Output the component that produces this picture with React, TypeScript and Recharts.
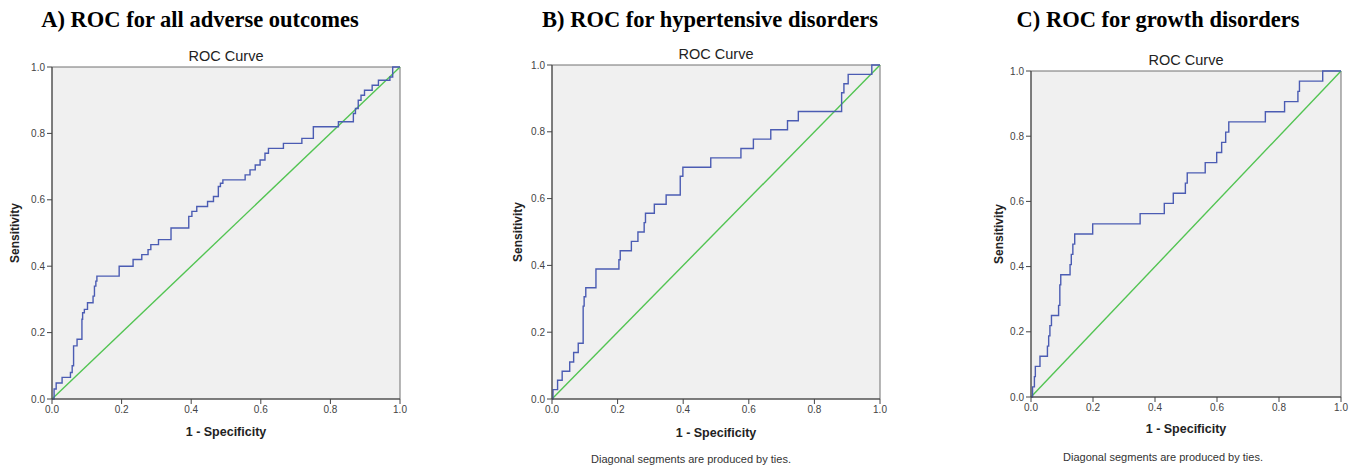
import React from 'react'
import { LineChart, Line, XAxis, YAxis, ReferenceArea } from 'recharts'

// A) all adverse outcomes
const allFpr = [0, 0.006, 0.012, 0.029, 0.053, 0.058, 0.062, 0.072, 0.086, 0.088, 0.093, 0.102, 0.118, 0.122, 0.126, 0.129, 0.193, 0.233, 0.258, 0.276, 0.284, 0.306, 0.342, 0.393, 0.402, 0.416, 0.447, 0.464, 0.478, 0.484, 0.491, 0.555, 0.569, 0.584, 0.598, 0.612, 0.622, 0.665, 0.718, 0.751, 0.823, 0.866, 0.872, 0.88, 0.888, 0.898, 0.92, 0.938, 0.971, 0.979, 1]
const allTpr = [0, 0.03, 0.048, 0.065, 0.08, 0.1, 0.16, 0.18, 0.24, 0.26, 0.27, 0.29, 0.31, 0.34, 0.355, 0.37, 0.4, 0.42, 0.435, 0.45, 0.465, 0.48, 0.515, 0.55, 0.565, 0.58, 0.595, 0.61, 0.64, 0.65, 0.66, 0.675, 0.69, 0.705, 0.72, 0.74, 0.755, 0.77, 0.785, 0.82, 0.835, 0.86, 0.875, 0.9, 0.915, 0.93, 0.945, 0.96, 0.97, 1, 1]

// B) hypertensive disorders
const hypFpr = [0, 0.003, 0.017, 0.031, 0.054, 0.066, 0.08, 0.095, 0.098, 0.103, 0.134, 0.204, 0.208, 0.242, 0.262, 0.281, 0.285, 0.312, 0.348, 0.391, 0.399, 0.484, 0.576, 0.614, 0.667, 0.718, 0.751, 0.883, 0.89, 0.903, 0.975, 1]
const hypTpr = [0, 0.028, 0.056, 0.083, 0.111, 0.139, 0.167, 0.278, 0.306, 0.333, 0.389, 0.417, 0.444, 0.472, 0.5, 0.528, 0.556, 0.583, 0.611, 0.667, 0.694, 0.722, 0.75, 0.778, 0.806, 0.833, 0.861, 0.917, 0.944, 0.972, 1, 1]

// C) growth disorders
const growFpr = [0, 0.005, 0.011, 0.014, 0.029, 0.053, 0.057, 0.061, 0.066, 0.089, 0.093, 0.096, 0.126, 0.13, 0.135, 0.141, 0.199, 0.352, 0.43, 0.459, 0.498, 0.504, 0.562, 0.599, 0.615, 0.628, 0.638, 0.756, 0.818, 0.861, 0.866, 0.941, 1]
const growTpr = [0, 0.031, 0.0625, 0.094, 0.125, 0.156, 0.1875, 0.219, 0.25, 0.281, 0.344, 0.375, 0.406, 0.4375, 0.469, 0.5, 0.531, 0.5625, 0.594, 0.625, 0.656, 0.6875, 0.719, 0.75, 0.781, 0.8125, 0.844, 0.875, 0.906, 0.9375, 0.969, 1, 1]

const refFpr = [0, 1]
const refTpr = [0, 1]

const axisTicks = [0, 0.2, 0.4, 0.6, 0.8, 1]

const panelTitles = ['A) ROC for all adverse outcomes', 'B) ROC for hypertensive disorders', 'C) ROC for growth disorders']

const zip = (xs: number[], ys: number[]) => xs.map((x, i) => ({ fpr: x, tpr: ys[i] }))

const sans = '"Liberation Sans", Arial, sans-serif'
const serif = '"Liberation Serif", "Times New Roman", serif'
const BLUE = '#4b5cb3'
const GREEN = '#52c452'
const AXIS = '#444'

const Y_W = 52
const PAD = 10
const X_H = 30

type Plot = { x0: number; y0: number; x1: number; y1: number }

function RocPanel({ plot, data }: { plot: Plot; data: { fpr: number; tpr: number }[] }) {
  const w = plot.x1 - plot.x0 + Y_W + PAD
  const h = plot.y1 - plot.y0 + PAD + X_H
  const tick = { fontSize: 10, fill: '#444', fontFamily: sans }
  return (
    <div style={{ position: 'absolute', left: plot.x0 - Y_W, top: plot.y0 - PAD }}>
      <LineChart width={w} height={h} data={data} margin={{ top: PAD, right: PAD, left: 0, bottom: 0 }}>
        <XAxis
          type="number"
          dataKey="fpr"
          domain={[0, 1]}
          ticks={axisTicks}
          tickFormatter={(v: number) => v.toFixed(1)}
          tick={tick}
          tickSize={5}
          tickMargin={2}
          height={X_H}
          stroke={AXIS}
        />
        <YAxis
          type="number"
          domain={[0, 1]}
          ticks={axisTicks}
          tickFormatter={(v: number) => v.toFixed(1)}
          tick={tick}
          tickSize={5}
          tickMargin={2}
          width={Y_W}
          stroke={AXIS}
        />
        <ReferenceArea x1={0} x2={1} y1={0} y2={1} fill="#f0f0f0" fillOpacity={1} stroke="#707070" strokeWidth={1} />
        <Line data={zip(refFpr, refTpr)} dataKey="tpr" type="linear" stroke={GREEN} strokeWidth={1.4} dot={false} isAnimationActive={false} />
        <Line dataKey="tpr" type="stepAfter" stroke={BLUE} strokeWidth={1.4} dot={false} isAnimationActive={false} />
      </LineChart>
    </div>
  )
}

const plots: Plot[] = [
  { x0: 52, y0: 67, x1: 400, y1: 399 },
  { x0: 552, y0: 65, x1: 880, y1: 399 },
  { x0: 1031, y0: 71, x1: 1341, y1: 397 },
]
const titleX = [200, 710, 1158]
const yLabelX = [15, 518, 999]
const xLabelY = [432, 433, 429]

export default function App() {
  const series = [zip(allFpr, allTpr), zip(hypFpr, hypTpr), zip(growFpr, growTpr)]
  return (
    <div style={{ position: 'absolute', left: 0, top: 0, width: 1360, height: 472, background: '#fff', overflow: 'hidden' }}>
      {plots.map((p, i) => (
        <RocPanel key={i} plot={p} data={series[i]} />
      ))}
      <svg width={1360} height={472} style={{ position: 'absolute', left: 0, top: 0, pointerEvents: 'none' }}>
        {plots.map((p, i) => {
          const cx = (p.x0 + p.x1) / 2
          const cy = (p.y0 + p.y1) / 2
          return (
            <g key={i}>
              <text x={titleX[i]} y={19} textAnchor="middle" dominantBaseline="central" fontFamily={serif} fontWeight="bold" fontSize={22.5} fill="#000">
                {panelTitles[i]}
              </text>
              <text x={cx} y={p.y0 - 11} textAnchor="middle" dominantBaseline="central" fontFamily={sans} fontSize={14.5} fill="#222">
                ROC Curve
              </text>
              <text x={cx} y={xLabelY[i]} textAnchor="middle" dominantBaseline="central" fontFamily={sans} fontWeight="bold" fontSize={12.5} fill="#222">
                1 - Specificity
              </text>
              <text
                x={yLabelX[i]}
                y={cy}
                textAnchor="middle"
                dominantBaseline="central"
                fontFamily={sans}
                fontWeight="bold"
                fontSize={12}
                fill="#222"
                transform={`rotate(-90 ${yLabelX[i]} ${cy})`}
              >
                Sensitivity
              </text>
            </g>
          )
        })}
        <text x={691} y={459} textAnchor="middle" dominantBaseline="central" fontFamily={sans} fontSize={11} fill="#333">
          Diagonal segments are produced by ties.
        </text>
        <text x={1163} y={457} textAnchor="middle" dominantBaseline="central" fontFamily={sans} fontSize={11} fill="#333">
          Diagonal segments are produced by ties.
        </text>
      </svg>
    </div>
  )
}
